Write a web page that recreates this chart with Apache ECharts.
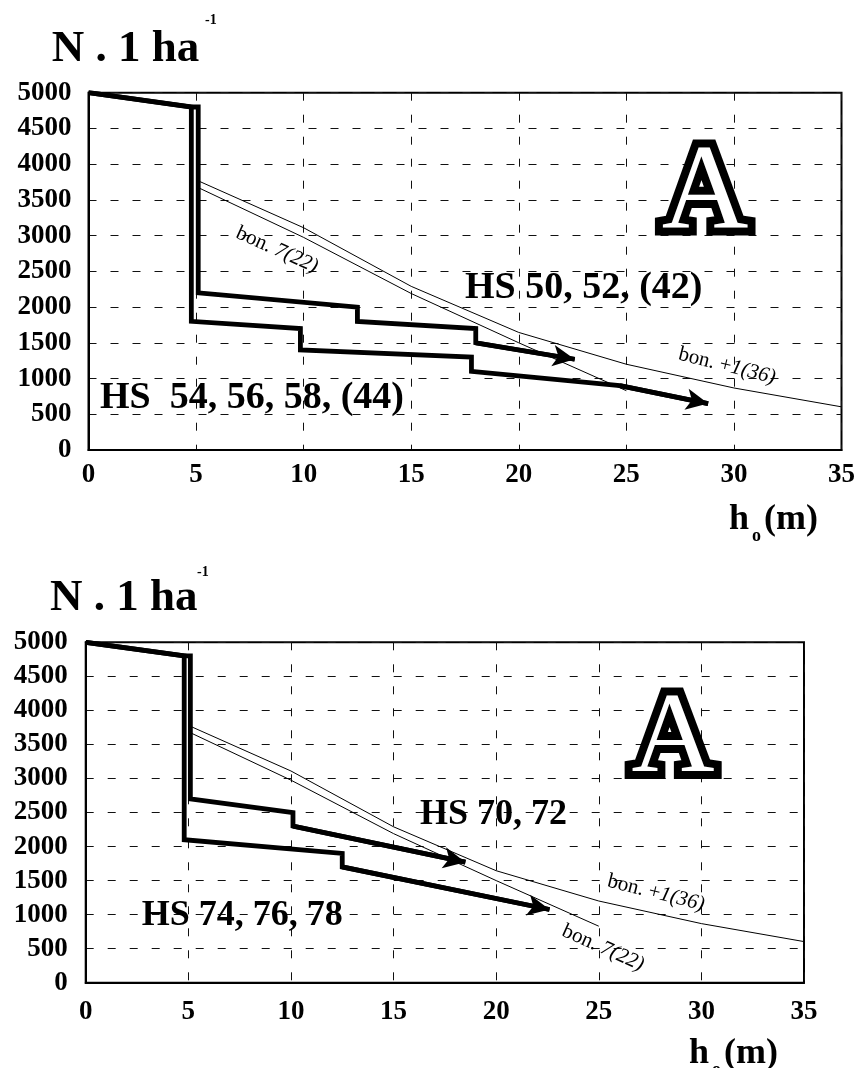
<!DOCTYPE html>
<html><head><meta charset="utf-8">
<script src="https://cdn.jsdelivr.net/npm/echarts@6/dist/echarts.min.js"></script>
<style>html,body{margin:0;padding:0;background:#fff}#c{width:858px;height:1068px}</style>
</head><body><div id="c"></div>
<script>
// ---- data ----
const xRange = [0, 35, 5];
const yRange = [0, 5000, 500];
// Chart A (top)
const topUpper = [[0,5000],[4.78,4800],[5.1,4800],[5.1,2200],[12.5,2000],[12.5,1800],[18,1700],[18,1500],[22.6,1270]];
const topLower = [[0,5000],[4.78,4800],[4.78,1800],[9.85,1700],[9.85,1400],[17.8,1300],[17.8,1100],[24.7,900],[28.8,650]];
// Chart B (bottom)
const botUpper = [[0,5000],[4.8,4800],[5.1,4800],[5.1,2700],[10.1,2500],[10.1,2300],[18.5,1770]];
const botLower = [[0,5000],[4.8,4800],[4.8,2100],[12.5,1900],[12.5,1700],[22.6,1075]];
// site-index curves
const bonPlus1 = [[5.15,3760],[10,3110],[15,2290],[20,1645],[25,1200],[30,868],[35,604]];
const bon7 = [[5.15,3665],[10,2975],[15,2190],[20,1500],[25,830]];

const FONT = '"Liberation Serif","Times New Roman",serif';
const chart = echarts.init(document.getElementById('c'), null, {renderer:'canvas'});

function xAx(gi, margin){
  return {type:'value', gridIndex:gi, min:xRange[0], max:xRange[1], interval:xRange[2],
    axisLine:{show:true, onZero:false, lineStyle:{color:'#000', width:2}},
    axisTick:{show:false},
    axisLabel:{color:'#000', fontFamily:FONT, fontWeight:'bold', fontSize:27, margin:margin, formatter:v=>String(v)},
    splitLine:{show:true, lineStyle:{color:'#111', width:1, type:[8,14]}}};
}
function yAx(gi, margin){
  return {type:'value', gridIndex:gi, min:yRange[0], max:yRange[1], interval:yRange[2],
    axisLine:{show:true, onZero:false, lineStyle:{color:'#000', width:2}},
    axisTick:{show:false},
    axisLabel:{color:'#000', fontFamily:FONT, fontWeight:'bold', fontSize:27, margin:margin, formatter:v=>String(v)},
    splitLine:{show:true, lineStyle:{color:'#111', width:1, type:[8,14]}}};
}
function thick(data, gi){
  const n = data.length;
  return {type:'line', xAxisIndex:gi, yAxisIndex:gi, data:data, showSymbol:false, symbol:'none',
    lineStyle:{color:'#000', width:4.8, join:'miter', cap:'butt'}, z:5, silent:true,
    markLine:{silent:true, symbol:['none','arrow'], symbolSize:[16,22], label:{show:false},
      lineStyle:{color:'#000', width:4.8, type:'solid'},
      data:[[{coord:data[n-2]},{coord:data[n-1]}]]}};
}
function thin(data, gi){
  return {type:'line', xAxisIndex:gi, yAxisIndex:gi, data:data, showSymbol:false, symbol:'none',
    lineStyle:{color:'#000', width:1}, z:3, silent:true};
}
function txt(x, y, text, size, extra){
  return Object.assign({type:'text', x:x, y:y, z:50, silent:true,
    style:Object.assign({text:text, font:'bold '+size+'px '+FONT, fill:'#000',
      align:'left', textAlign:'left', verticalAlign:'middle', textVerticalAlign:'middle'}, extra||{})});
}
function bon(x, y, a, b, rotDeg){
  return {type:'text', x:x, y:y, rotation:rotDeg*Math.PI/180, z:50, silent:true,
    style:{text:'{r|'+a+'}{i|'+b+'}', align:'center', textAlign:'center', verticalAlign:'middle', textVerticalAlign:'middle',
      rich:{r:{font:'21px '+FONT, fill:'#000'}, i:{font:'italic 21px '+FONT, fill:'#000'}}}};
}
function bigA(x, y, size){
  return {type:'text', x:x, y:y, z:40, silent:true,
    style:{text:'A', font:size+'px '+FONT, fill:'#fff', stroke:'#000', lineWidth:16, lineJoin:'round',
      align:'center', textAlign:'center', verticalAlign:'middle', textVerticalAlign:'middle'}};
}
function hom(x, y){
  return [txt(x, y, 'h', 36, {verticalAlign:'bottom', textVerticalAlign:'bottom'}),
          txt(x+23, y+7, 'o', 18, {verticalAlign:'bottom', textVerticalAlign:'bottom'}),
          txt(x+35, y, '(m)', 36, {verticalAlign:'bottom', textVerticalAlign:'bottom'})];
}

const option = {
  animation:false,
  backgroundColor:'#fff',
  grid:[
    {left:88.5, top:92.7, width:754.2, height:357.3, show:true, borderColor:'#000', borderWidth:2, containLabel:false},
    {left:85.7, top:642.3, width:718.3, height:340.4, show:true, borderColor:'#000', borderWidth:2, containLabel:false}
  ],
  xAxis:[xAx(0, 12), xAx(1, 16)],
  yAxis:[yAx(0, 17), yAx(1, 18)],
  series:[
    thin(bonPlus1, 0), thin(bon7, 0),
    thick(topUpper, 0), thick(topLower, 0),
    thin(bonPlus1, 1), thin(bon7, 1),
    thick(botUpper, 1), thick(botLower, 1)
  ],
  graphic:[
    txt(51.7, 49, 'N . 1 ha', 45),
    txt(205, 20, '-1', 14),
    txt(50, 598, 'N . 1 ha', 45),
    txt(197, 572, '-1', 14),
    txt(465, 288, 'HS 50, 52, (42)', 38),
    txt(100, 398, 'HS  54, 56, 58, (44)', 38),
    txt(420, 815, 'HS 70, 72', 36),
    txt(141.7, 916, 'HS 74, 76, 78', 36),
    bon(277, 250, 'bon. ', '7(22)', -24),
    bon(727, 366, 'bon. +', '1(36)', -14),
    bon(656, 893, 'bon. +', '1(36)', -14),
    bon(603, 948, 'bon. ', '7(22)', -24),
    bigA(705, 196, 120),
    bigA(673, 741, 115)
  ].concat(hom(729, 538)).concat(hom(689, 1072))
};
chart.setOption(option);
</script>
</body></html>
